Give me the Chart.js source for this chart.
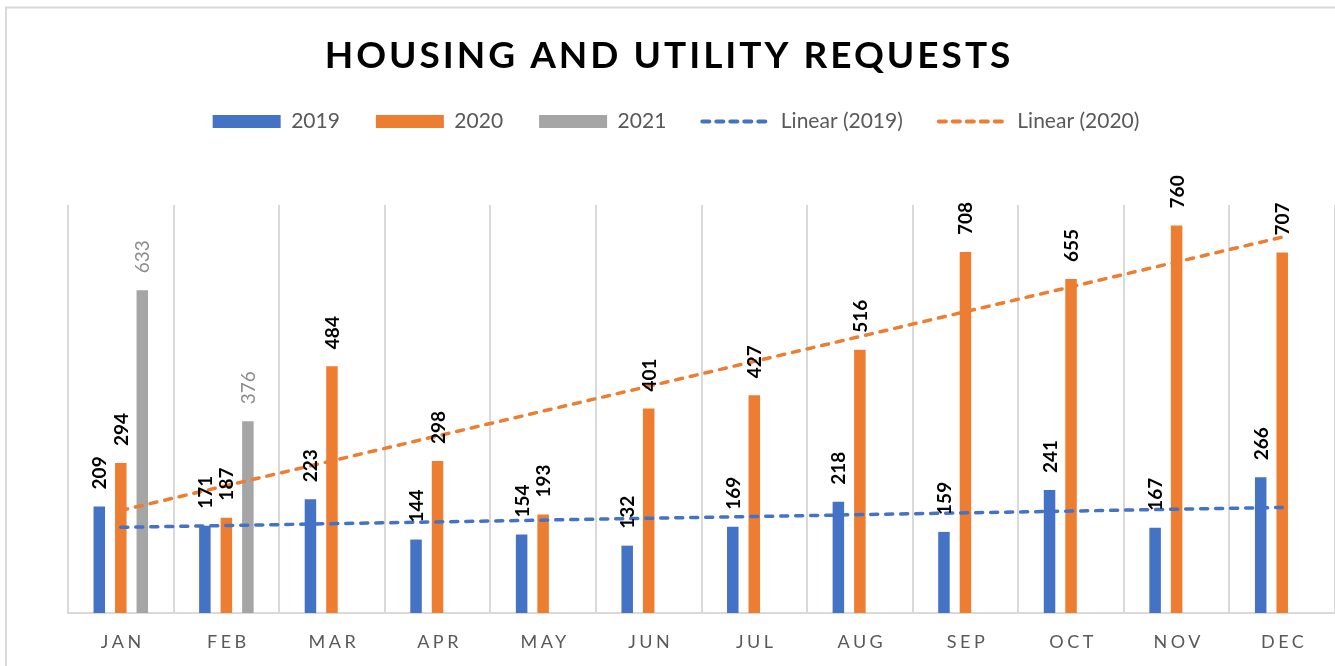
<!DOCTYPE html>
<html><head><meta charset="utf-8">
<script src="https://cdn.jsdelivr.net/npm/chart.js@4.4.1/dist/chart.umd.min.js"></script>
<style>html,body{margin:0;padding:0;background:#fff;}canvas{display:block;}</style>
</head><body>
<canvas id="c" width="1335" height="666"></canvas>
<script>
const chartTitle = 'HOUSING AND UTILITY REQUESTS';
const months = ['JAN','FEB','MAR','APR','MAY','JUN','JUL','AUG','SEP','OCT','NOV','DEC'];
const y2019 = [209,171,223,144,154,132,169,218,159,241,167,266];
const y2020 = [294,187,484,298,193,401,427,516,708,655,760,707];
const y2021 = [633,376,null,null,null,null,null,null,null,null,null,null];
// trendline end values (Jan and Dec)
const trend2019 = [168,null,null,null,null,null,null,null,null,null,null,207];
const trend2020 = [201,null,null,null,null,null,null,null,null,null,null,737];

const BLUE='#4472C4', ORANGE='#ED7D31', GRAY='#A5A5A5';
const FONT='Lato';

const framePlugin = {
  id:'frame',
  beforeDraw(chart){
    const c=chart.ctx; c.save();
    c.fillStyle='#fff'; c.fillRect(0,0,chart.width,chart.height);
    c.strokeStyle='#d9d9d9'; c.lineWidth=2;
    c.strokeRect(6,7.5,chart.width+20,chart.height+20);
    c.restore();
  }
};
const titlePlugin = {
  id:'ttl',
  afterDraw(chart){
    const c=chart.ctx; c.save();
    c.font='bold 37px '+FONT; c.fillStyle='#000';
    c.letterSpacing='3px'; c.textAlign='center'; c.textBaseline='alphabetic';
    c.fillText(chartTitle, chart.width/2+1.5, 68);
    c.restore();
  }
};
const xLabelPlugin = {
  id:'xl',
  afterDraw(chart){
    const c=chart.ctx, sc=chart.scales.x; c.save();
    c.font='18px '+FONT; c.fillStyle='#595959'; c.letterSpacing='3.5px';
    c.textAlign='center'; c.textBaseline='alphabetic';
    months.forEach((m,i)=>{ c.fillText(m, sc.getPixelForValue(i)+2, 648); });
    c.restore();
  }
};
const barLabelPlugin = {
  id:'bl',
  afterDatasetsDraw(chart){
    const c=chart.ctx; c.save();
    chart.data.datasets.forEach((ds,di)=>{
      if(ds.type!=='bar') return;
      const meta=chart.getDatasetMeta(di);
      const gray = ds.label==='2021';
      c.font=(gray?'':'bold ')+'19px '+FONT;
      c.fillStyle=gray?'#8c8c8c':'#000';
      meta.data.forEach((el,i)=>{
        const v=ds.data[i]; if(v==null) return;
        c.save();
        c.translate(el.x+7, el.y-17);
        c.rotate(-Math.PI/2);
        c.textAlign='left'; c.textBaseline='alphabetic';
        c.fillText(String(v),0,0);
        c.restore();
      });
    });
    c.restore();
  }
};
const legendGap = {
  id:'lgap',
  beforeInit(chart){
    const orig=chart.legend.fit;
    chart.legend.fit=function(){ orig.call(this); this.height+=63; };
  }
};

new Chart(document.getElementById('c'), {
  data:{
    labels:months,
    datasets:[
      {type:'bar',label:'2019',data:y2019,backgroundColor:BLUE,order:2},
      {type:'bar',label:'2020',data:y2020,backgroundColor:ORANGE,order:2},
      {type:'bar',label:'2021',data:y2021,backgroundColor:GRAY,order:2},
      {type:'line',label:'Linear (2019)',data:trend2019,borderColor:BLUE,borderWidth:3.5,borderDash:[7,8],borderCapStyle:'round',pointRadius:0,spanGaps:true,fill:false,order:1},
      {type:'line',label:'Linear (2020)',data:trend2020,borderColor:ORANGE,borderWidth:3.5,borderDash:[7,8],borderCapStyle:'round',pointRadius:0,spanGaps:true,fill:false,order:1}
    ]
  },
  options:{
    responsive:false, animation:false,
    layout:{padding:{top:75,left:17,right:0,bottom:53}},
    datasets:{bar:{categoryPercentage:0.611,barPercentage:0.535}},
    scales:{
      x:{grid:{offset:true,color:'#d9d9d9',lineWidth:2,drawTicks:false},border:{color:'#d9d9d9',width:2},ticks:{display:false}},
      y:{display:true,min:0,max:800,ticks:{display:false},grid:{display:false,drawTicks:false},border:{display:false},
         afterFit(s){ s.width=51; }}
    },
    plugins:{
      title:{display:false},
      tooltip:{enabled:false},
      legend:{
        position:'top',
        labels:{
          font:{family:FONT,size:21}, color:'#595959', padding:36,
          usePointStyle:true, pointStyleWidth:68, boxHeight:13,
          generateLabels(chart){
            return chart.data.datasets.map((ds,i)=>{
              const isLine=ds.type==='line';
              return {text:ds.label, datasetIndex:i, hidden:false, fontColor:'#595959',
                fillStyle:isLine?'rgba(0,0,0,0)':ds.backgroundColor,
                strokeStyle:isLine?ds.borderColor:ds.backgroundColor,
                lineWidth:isLine?4:0, lineDash:isLine?[7,7]:[], lineCap:'round',
                pointStyle:isLine?'line':'rect'};
            });
          }
        }
      }
    }
  },
  plugins:[framePlugin,legendGap,barLabelPlugin,titlePlugin,xLabelPlugin]
});
</script>
</body></html>
